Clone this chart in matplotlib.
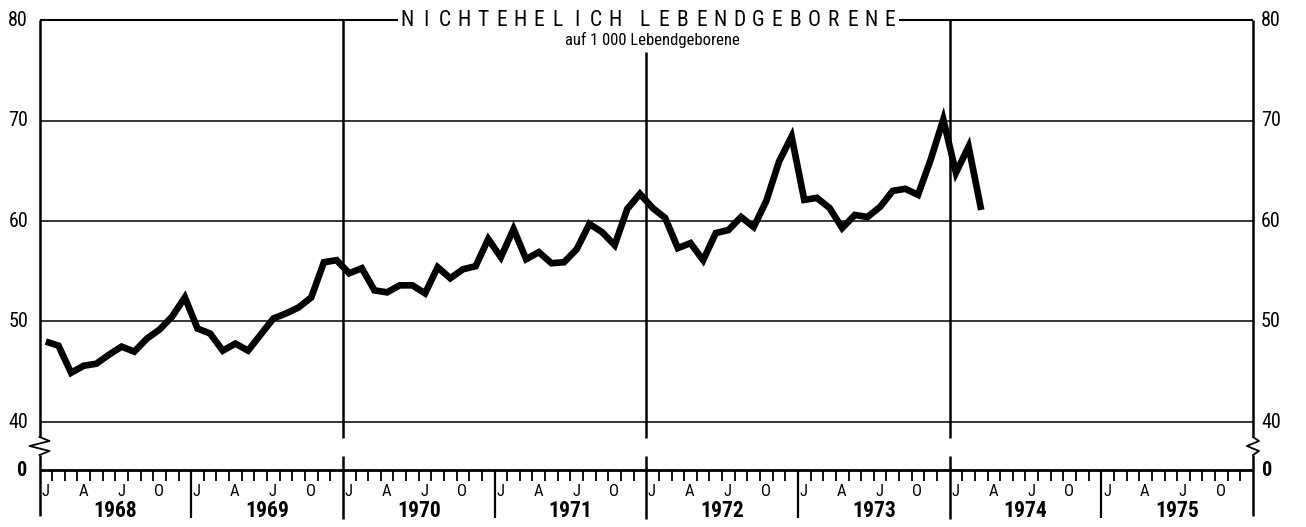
import numpy as np
import matplotlib
matplotlib.use("Agg")
import matplotlib.pyplot as plt
from matplotlib import font_manager

# nichtehelich Lebendgeborene auf 1000 Lebendgeborene, monatlich ab Januar 1968
rate_1968 = [48.0, 47.6, 44.9, 45.6, 45.8, 46.7, 47.5, 47.0, 48.3, 49.2, 50.5, 52.4]
rate_1969 = [49.3, 48.8, 47.1, 47.8, 47.1, 48.7, 50.3, 50.8, 51.4, 52.4, 55.9, 56.1]
rate_1970 = [54.8, 55.3, 53.1, 52.9, 53.6, 53.6, 52.8, 55.4, 54.3, 55.2, 55.5, 58.2]
rate_1971 = [56.4, 59.2, 56.2, 56.9, 55.8, 55.9, 57.2, 59.7, 58.9, 57.6, 61.2, 62.7]
rate_1972 = [61.3, 60.3, 57.3, 57.8, 56.1, 58.8, 59.1, 60.4, 59.4, 62.0, 65.9, 68.4]
rate_1973 = [62.1, 62.3, 61.3, 59.3, 60.6, 60.4, 61.4, 63.0, 63.2, 62.6, 66.1, 70.1]
rate_1974 = [64.8, 67.4, 61.1]

years = [1968, 1969, 1970, 1971, 1972, 1973, 1974, 1975]
month_letters = {0: "J", 3: "A", 6: "J", 9: "O"}
y_ticks = [40, 50, 60, 70, 80]

TITLE = "NICHTEHELICH LEBENDGEBORENE"
SUBTITLE = "auf 1 000 Lebendgeborene"

rates = rate_1968 + rate_1969 + rate_1970 + rate_1971 + rate_1972 + rate_1973 + rate_1974


def pick_font(names):
    have = {f.name for f in font_manager.fontManager.ttflist}
    for n in names:
        if n in have:
            return n
    return "DejaVu Sans"


FONT = pick_font(["Liberation Sans Narrow", "Roboto Condensed", "Open Sans Condensed", "Liberation Sans"])
plt.rcParams["font.family"] = [FONT, "DejaVu Sans"]

W, H = 1306, 527
fig = plt.figure(figsize=(W / 100, H / 100), dpi=100)

# pixel layout of the plot frame
L, R, T, B = 39.5, 1253.0, 20.0, 470.0
n_months = 12 * len(years)
px_per_month = (R - L) / n_months
Y_ZERO = 40 - (B - 422.0) / ((422.0 - T) / 40.0)   # where "0" sits after the axis break
px_per_unit = (B - T) / (80 - Y_ZERO)

ax = fig.add_axes([L / W, (H - B) / H, (R - L) / W, (B - T) / H])
ax.set_xlim(0, n_months)
ax.set_ylim(Y_ZERO, 80)
for s in ax.spines.values():
    s.set_visible(False)
ax.set_xticks([])
ax.set_yticks([])


def py(p):
    # pixel row -> y value
    return 80 - (p - T) / px_per_unit


def px(p):
    return (p - L) / px_per_month


k = dict(color="black", clip_on=False, solid_capstyle="butt")

# horizontal grid
for v in [40, 50, 60, 70]:
    ax.plot([0, n_months], [v, v], lw=1.1, **k)
# top border, broken by the title
ax.plot([0, px(398)], [80, 80], lw=1.5, **k)
ax.plot([px(899), n_months], [80, 80], lw=1.5, **k)
ax.plot([0, n_months], [Y_ZERO, Y_ZERO], lw=2.0, **k)

# side borders with break
for xm, amp in [(0, 1.0), (n_months, 0.6)]:
    d = 10 * amp / px_per_month
    ax.plot([xm, xm], [80, py(437)], lw=1.8, **k)
    ax.plot([xm, xm + d, xm - d, xm + d, xm],
            [py(437), py(441), py(446), py(451), py(455)], lw=1.3, color="black", clip_on=False)
    ax.plot([xm, xm], [py(455), py(516)], lw=1.8, **k)

# year lines through the plot (the 1972 one starts under the heading)
for xm in [24, 48, 72]:
    top = py(52) if xm == 48 else 80
    ax.plot([xm, xm], [top, py(438)], lw=1.8, **k)
    ax.plot([xm, xm], [py(456), py(519)], lw=1.8, **k)
for xm in [12, 36, 60, 84]:
    ax.plot([xm, xm], [Y_ZERO, py(518)], lw=1.6, **k)

# month ticks
for m in range(n_months):
    if m % 12:
        ax.plot([m, m], [Y_ZERO, py(481)], lw=1.3, **k)

# month letters and years
for yi, yr in enumerate(years):
    for m, lab in month_letters.items():
        ax.text(yi * 12 + m + 0.45, py(492), lab, ha="center", va="center", fontsize=12)
    ax.text(yi * 12 + 6, py(511), str(yr), ha="center", va="center", fontsize=15.5, fontweight="bold")

# y labels both sides
for v in y_ticks:
    ax.text(px(28), v, str(v), ha="right", va="center", fontsize=14.5)
    ax.text(px(1261), v, str(v), ha="left", va="center", fontsize=14.5)
ax.text(px(27), Y_ZERO, "0", ha="right", va="center", fontsize=14.5, fontweight="bold")
ax.text(px(1262), Y_ZERO, "0", ha="left", va="center", fontsize=14.5, fontweight="bold")

# data
xs = np.arange(len(rates)) + 0.5
ax.plot(xs, rates, color="black", lw=4.8, solid_joinstyle="miter", solid_capstyle="butt", zorder=5)

# spaced-out title, one letter at a time; the word gap is a bit wider than a letter step
n_letters = len(TITLE.replace(" ", ""))
gap_extra = 0.6
pitch = (890 - 407) / (n_letters - 1 + gap_extra)
pos = 407.0
for ch in TITLE:
    if ch == " ":
        pos += gap_extra * pitch
        continue
    ax.text(px(pos), py(20), ch, ha="center", va="center", fontsize=15.5, zorder=6)
    pos += pitch
ax.text(px(652), py(40), SUBTITLE, ha="center", va="center", fontsize=12, zorder=6)

fig.savefig("out.png", dpi=100, facecolor="white")
